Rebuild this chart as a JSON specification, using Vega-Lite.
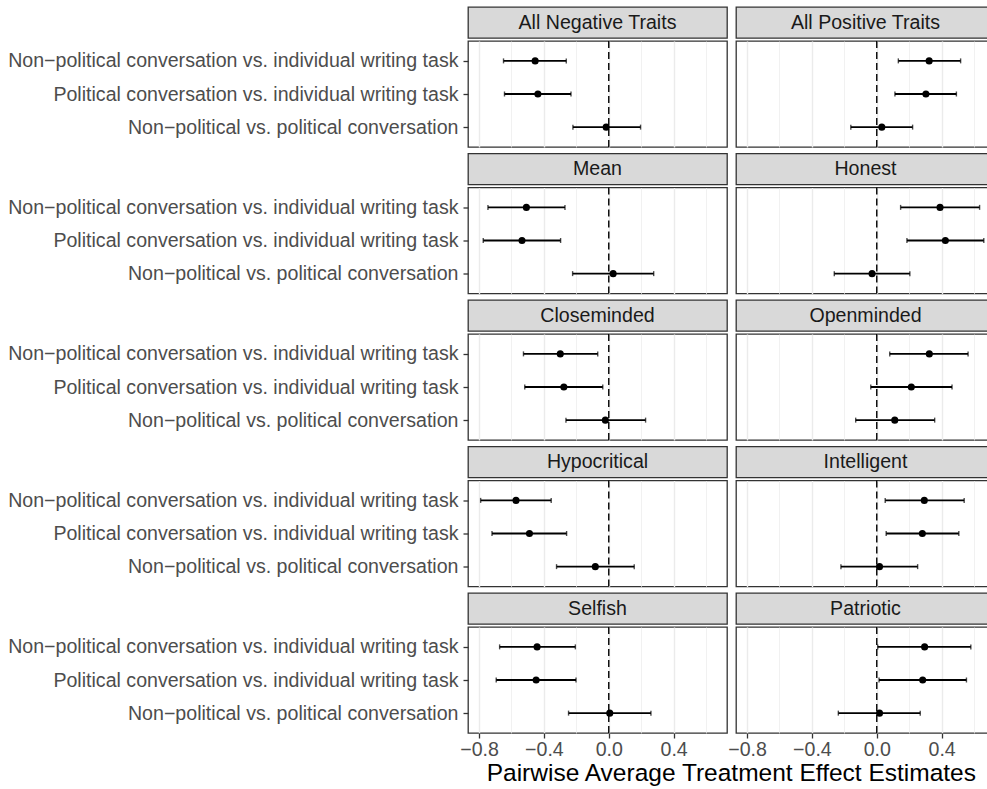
{
  "$schema": "https://vega.github.io/schema/vega-lite/v6.json",
  "padding": {"left": 7, "top": 6, "right": 0, "bottom": 0},
  "background": "white",
  "title": {"text": "Pairwise Average Treatment Effect Estimates", "orient": "bottom", "anchor": "middle", "dx": 230, "offset": 3, "fontSize": 24.5, "fontWeight": "normal", "color": "#000000", "font": "Liberation Sans"},
  "datasets": {
    "ate": [
      {"trait": "All Negative Traits", "comparison": "Non−political conversation vs. individual writing task", "est": -0.454, "lo": -0.649, "hi": -0.262},
      {"trait": "All Negative Traits", "comparison": "Political conversation vs. individual writing task", "est": -0.437, "lo": -0.643, "hi": -0.233},
      {"trait": "All Negative Traits", "comparison": "Non−political vs. political conversation", "est": -0.016, "lo": -0.221, "hi": 0.196},
      {"trait": "All Positive Traits", "comparison": "Non−political conversation vs. individual writing task", "est": 0.323, "lo": 0.133, "hi": 0.517},
      {"trait": "All Positive Traits", "comparison": "Political conversation vs. individual writing task", "est": 0.303, "lo": 0.112, "hi": 0.491},
      {"trait": "All Positive Traits", "comparison": "Non−political vs. political conversation", "est": 0.031, "lo": -0.160, "hi": 0.221},
      {"trait": "Mean", "comparison": "Non−political conversation vs. individual writing task", "est": -0.508, "lo": -0.745, "hi": -0.270},
      {"trait": "Mean", "comparison": "Political conversation vs. individual writing task", "est": -0.535, "lo": -0.774, "hi": -0.297},
      {"trait": "Mean", "comparison": "Non−political vs. political conversation", "est": 0.027, "lo": -0.223, "hi": 0.277},
      {"trait": "Honest", "comparison": "Non−political conversation vs. individual writing task", "est": 0.390, "lo": 0.147, "hi": 0.634},
      {"trait": "Honest", "comparison": "Political conversation vs. individual writing task", "est": 0.423, "lo": 0.186, "hi": 0.660},
      {"trait": "Honest", "comparison": "Non−political vs. political conversation", "est": -0.029, "lo": -0.262, "hi": 0.204},
      {"trait": "Closeminded", "comparison": "Non−political conversation vs. individual writing task", "est": -0.299, "lo": -0.526, "hi": -0.068},
      {"trait": "Closeminded", "comparison": "Political conversation vs. individual writing task", "est": -0.277, "lo": -0.518, "hi": -0.037},
      {"trait": "Closeminded", "comparison": "Non−political vs. political conversation", "est": -0.021, "lo": -0.264, "hi": 0.227},
      {"trait": "Openminded", "comparison": "Non−political conversation vs. individual writing task", "est": 0.324, "lo": 0.080, "hi": 0.563},
      {"trait": "Openminded", "comparison": "Political conversation vs. individual writing task", "est": 0.213, "lo": -0.037, "hi": 0.464},
      {"trait": "Openminded", "comparison": "Non−political vs. political conversation", "est": 0.111, "lo": -0.130, "hi": 0.357},
      {"trait": "Hypocritical", "comparison": "Non−political conversation vs. individual writing task", "est": -0.572, "lo": -0.790, "hi": -0.355},
      {"trait": "Hypocritical", "comparison": "Political conversation vs. individual writing task", "est": -0.489, "lo": -0.720, "hi": -0.260},
      {"trait": "Hypocritical", "comparison": "Non−political vs. political conversation", "est": -0.083, "lo": -0.322, "hi": 0.157},
      {"trait": "Intelligent", "comparison": "Non−political conversation vs. individual writing task", "est": 0.293, "lo": 0.052, "hi": 0.539},
      {"trait": "Intelligent", "comparison": "Political conversation vs. individual writing task", "est": 0.281, "lo": 0.058, "hi": 0.506},
      {"trait": "Intelligent", "comparison": "Non−political vs. political conversation", "est": 0.017, "lo": -0.221, "hi": 0.252},
      {"trait": "Selfish", "comparison": "Non−political conversation vs. individual writing task", "est": -0.442, "lo": -0.673, "hi": -0.206},
      {"trait": "Selfish", "comparison": "Political conversation vs. individual writing task", "est": -0.448, "lo": -0.694, "hi": -0.202},
      {"trait": "Selfish", "comparison": "Non−political vs. political conversation", "est": 0.006, "lo": -0.248, "hi": 0.260},
      {"trait": "Patriotic", "comparison": "Non−political conversation vs. individual writing task", "est": 0.295, "lo": 0.006, "hi": 0.580},
      {"trait": "Patriotic", "comparison": "Political conversation vs. individual writing task", "est": 0.283, "lo": 0.014, "hi": 0.553},
      {"trait": "Patriotic", "comparison": "Non−political vs. political conversation", "est": 0.017, "lo": -0.237, "hi": 0.268}
    ]
  },
  "data": {"name": "ate"},
  "spacing": -1,
  "hconcat": [
    {"spacing": 3.5, "vconcat": [
      {"spacing": 0, "vconcat": [
        {"width": 259, "height": 31, "view": {"fill": "#d9d9d9", "stroke": "#333333", "strokeWidth": 1.3},
         "transform": [{"filter": {"field": "trait", "equal": "All Negative Traits"}}, {"filter": {"field": "comparison", "equal": "Non−political vs. political conversation"}}],
         "mark": {"type": "text", "fontSize": 19.6, "color": "#1a1a1a", "baseline": "middle"},
         "encoding": {"text": {"field": "trait"}}},
        {"width": 259, "height": 106,
         "transform": [{"filter": {"field": "trait", "equal": "All Negative Traits"}}],
         "encoding": {"x": {"field": "est", "type": "quantitative", "scale": {"domain": [-0.868, 0.729], "nice": false, "zero": false}, "axis": {"labels": false, "ticks": false, "title": null}}},
         "layer": [
           {"encoding": {"y": {"field": "comparison", "type": "nominal", "scale": {"type": "point", "padding": 0.6, "domain": ["Non−political conversation vs. individual writing task", "Political conversation vs. individual writing task", "Non−political vs. political conversation"]}, "axis": {"title": null}}},
            "layer": [
              {"mark": {"type": "rule", "color": "black", "strokeWidth": 1.8}, "encoding": {"x": {"field": "lo", "type": "quantitative"}, "x2": {"field": "hi"}}},
              {"mark": {"type": "tick", "color": "black", "thickness": 1.4, "size": 5}, "encoding": {"x": {"field": "lo", "type": "quantitative"}}},
              {"mark": {"type": "tick", "color": "black", "thickness": 1.4, "size": 5}, "encoding": {"x": {"field": "hi", "type": "quantitative"}}},
              {"mark": {"type": "point", "filled": true, "color": "black", "opacity": 1, "size": 50}, "encoding": {}}
            ]},
           {"transform": [{"filter": {"field": "comparison", "equal": "Non−political vs. political conversation"}}],
            "mark": {"type": "rule", "color": "black", "strokeWidth": 1.4, "strokeDash": [7, 4]}, "encoding": {"x": {"datum": 0}}}
         ]}
      ]},
      {"spacing": 0, "vconcat": [
        {"width": 259, "height": 31, "view": {"fill": "#d9d9d9", "stroke": "#333333", "strokeWidth": 1.3},
         "transform": [{"filter": {"field": "trait", "equal": "Mean"}}, {"filter": {"field": "comparison", "equal": "Non−political vs. political conversation"}}],
         "mark": {"type": "text", "fontSize": 19.6, "color": "#1a1a1a", "baseline": "middle"},
         "encoding": {"text": {"field": "trait"}}},
        {"width": 259, "height": 106,
         "transform": [{"filter": {"field": "trait", "equal": "Mean"}}],
         "encoding": {"x": {"field": "est", "type": "quantitative", "scale": {"domain": [-0.868, 0.729], "nice": false, "zero": false}, "axis": {"labels": false, "ticks": false, "title": null}}},
         "layer": [
           {"encoding": {"y": {"field": "comparison", "type": "nominal", "scale": {"type": "point", "padding": 0.6, "domain": ["Non−political conversation vs. individual writing task", "Political conversation vs. individual writing task", "Non−political vs. political conversation"]}, "axis": {"title": null}}},
            "layer": [
              {"mark": {"type": "rule", "color": "black", "strokeWidth": 1.8}, "encoding": {"x": {"field": "lo", "type": "quantitative"}, "x2": {"field": "hi"}}},
              {"mark": {"type": "tick", "color": "black", "thickness": 1.4, "size": 5}, "encoding": {"x": {"field": "lo", "type": "quantitative"}}},
              {"mark": {"type": "tick", "color": "black", "thickness": 1.4, "size": 5}, "encoding": {"x": {"field": "hi", "type": "quantitative"}}},
              {"mark": {"type": "point", "filled": true, "color": "black", "opacity": 1, "size": 50}, "encoding": {}}
            ]},
           {"transform": [{"filter": {"field": "comparison", "equal": "Non−political vs. political conversation"}}],
            "mark": {"type": "rule", "color": "black", "strokeWidth": 1.4, "strokeDash": [7, 4]}, "encoding": {"x": {"datum": 0}}}
         ]}
      ]},
      {"spacing": 0, "vconcat": [
        {"width": 259, "height": 31, "view": {"fill": "#d9d9d9", "stroke": "#333333", "strokeWidth": 1.3},
         "transform": [{"filter": {"field": "trait", "equal": "Closeminded"}}, {"filter": {"field": "comparison", "equal": "Non−political vs. political conversation"}}],
         "mark": {"type": "text", "fontSize": 19.6, "color": "#1a1a1a", "baseline": "middle"},
         "encoding": {"text": {"field": "trait"}}},
        {"width": 259, "height": 106,
         "transform": [{"filter": {"field": "trait", "equal": "Closeminded"}}],
         "encoding": {"x": {"field": "est", "type": "quantitative", "scale": {"domain": [-0.868, 0.729], "nice": false, "zero": false}, "axis": {"labels": false, "ticks": false, "title": null}}},
         "layer": [
           {"encoding": {"y": {"field": "comparison", "type": "nominal", "scale": {"type": "point", "padding": 0.6, "domain": ["Non−political conversation vs. individual writing task", "Political conversation vs. individual writing task", "Non−political vs. political conversation"]}, "axis": {"title": null}}},
            "layer": [
              {"mark": {"type": "rule", "color": "black", "strokeWidth": 1.8}, "encoding": {"x": {"field": "lo", "type": "quantitative"}, "x2": {"field": "hi"}}},
              {"mark": {"type": "tick", "color": "black", "thickness": 1.4, "size": 5}, "encoding": {"x": {"field": "lo", "type": "quantitative"}}},
              {"mark": {"type": "tick", "color": "black", "thickness": 1.4, "size": 5}, "encoding": {"x": {"field": "hi", "type": "quantitative"}}},
              {"mark": {"type": "point", "filled": true, "color": "black", "opacity": 1, "size": 50}, "encoding": {}}
            ]},
           {"transform": [{"filter": {"field": "comparison", "equal": "Non−political vs. political conversation"}}],
            "mark": {"type": "rule", "color": "black", "strokeWidth": 1.4, "strokeDash": [7, 4]}, "encoding": {"x": {"datum": 0}}}
         ]}
      ]},
      {"spacing": 0, "vconcat": [
        {"width": 259, "height": 31, "view": {"fill": "#d9d9d9", "stroke": "#333333", "strokeWidth": 1.3},
         "transform": [{"filter": {"field": "trait", "equal": "Hypocritical"}}, {"filter": {"field": "comparison", "equal": "Non−political vs. political conversation"}}],
         "mark": {"type": "text", "fontSize": 19.6, "color": "#1a1a1a", "baseline": "middle"},
         "encoding": {"text": {"field": "trait"}}},
        {"width": 259, "height": 106,
         "transform": [{"filter": {"field": "trait", "equal": "Hypocritical"}}],
         "encoding": {"x": {"field": "est", "type": "quantitative", "scale": {"domain": [-0.868, 0.729], "nice": false, "zero": false}, "axis": {"labels": false, "ticks": false, "title": null}}},
         "layer": [
           {"encoding": {"y": {"field": "comparison", "type": "nominal", "scale": {"type": "point", "padding": 0.6, "domain": ["Non−political conversation vs. individual writing task", "Political conversation vs. individual writing task", "Non−political vs. political conversation"]}, "axis": {"title": null}}},
            "layer": [
              {"mark": {"type": "rule", "color": "black", "strokeWidth": 1.8}, "encoding": {"x": {"field": "lo", "type": "quantitative"}, "x2": {"field": "hi"}}},
              {"mark": {"type": "tick", "color": "black", "thickness": 1.4, "size": 5}, "encoding": {"x": {"field": "lo", "type": "quantitative"}}},
              {"mark": {"type": "tick", "color": "black", "thickness": 1.4, "size": 5}, "encoding": {"x": {"field": "hi", "type": "quantitative"}}},
              {"mark": {"type": "point", "filled": true, "color": "black", "opacity": 1, "size": 50}, "encoding": {}}
            ]},
           {"transform": [{"filter": {"field": "comparison", "equal": "Non−political vs. political conversation"}}],
            "mark": {"type": "rule", "color": "black", "strokeWidth": 1.4, "strokeDash": [7, 4]}, "encoding": {"x": {"datum": 0}}}
         ]}
      ]},
      {"spacing": 0, "vconcat": [
        {"width": 259, "height": 31, "view": {"fill": "#d9d9d9", "stroke": "#333333", "strokeWidth": 1.3},
         "transform": [{"filter": {"field": "trait", "equal": "Selfish"}}, {"filter": {"field": "comparison", "equal": "Non−political vs. political conversation"}}],
         "mark": {"type": "text", "fontSize": 19.6, "color": "#1a1a1a", "baseline": "middle"},
         "encoding": {"text": {"field": "trait"}}},
        {"width": 259, "height": 106,
         "transform": [{"filter": {"field": "trait", "equal": "Selfish"}}],
         "encoding": {"x": {"field": "est", "type": "quantitative", "scale": {"domain": [-0.868, 0.729], "nice": false, "zero": false}, "axis": {"title": null}}},
         "layer": [
           {"encoding": {"y": {"field": "comparison", "type": "nominal", "scale": {"type": "point", "padding": 0.6, "domain": ["Non−political conversation vs. individual writing task", "Political conversation vs. individual writing task", "Non−political vs. political conversation"]}, "axis": {"title": null}}},
            "layer": [
              {"mark": {"type": "rule", "color": "black", "strokeWidth": 1.8}, "encoding": {"x": {"field": "lo", "type": "quantitative"}, "x2": {"field": "hi"}}},
              {"mark": {"type": "tick", "color": "black", "thickness": 1.4, "size": 5}, "encoding": {"x": {"field": "lo", "type": "quantitative"}}},
              {"mark": {"type": "tick", "color": "black", "thickness": 1.4, "size": 5}, "encoding": {"x": {"field": "hi", "type": "quantitative"}}},
              {"mark": {"type": "point", "filled": true, "color": "black", "opacity": 1, "size": 50}, "encoding": {}}
            ]},
           {"transform": [{"filter": {"field": "comparison", "equal": "Non−political vs. political conversation"}}],
            "mark": {"type": "rule", "color": "black", "strokeWidth": 1.4, "strokeDash": [7, 4]}, "encoding": {"x": {"datum": 0}}}
         ]}
      ]}
    ]},
    {"spacing": 3.5, "vconcat": [
      {"spacing": 0, "vconcat": [
        {"width": 259, "height": 31, "view": {"fill": "#d9d9d9", "stroke": "#333333", "strokeWidth": 1.3},
         "transform": [{"filter": {"field": "trait", "equal": "All Positive Traits"}}, {"filter": {"field": "comparison", "equal": "Non−political vs. political conversation"}}],
         "mark": {"type": "text", "fontSize": 19.6, "color": "#1a1a1a", "baseline": "middle"},
         "encoding": {"text": {"field": "trait"}}},
        {"width": 259, "height": 106,
         "transform": [{"filter": {"field": "trait", "equal": "All Positive Traits"}}],
         "encoding": {"x": {"field": "est", "type": "quantitative", "scale": {"domain": [-0.868, 0.729], "nice": false, "zero": false}, "axis": {"labels": false, "ticks": false, "title": null}}},
         "layer": [
           {"encoding": {"y": {"field": "comparison", "type": "nominal", "scale": {"type": "point", "padding": 0.6, "domain": ["Non−political conversation vs. individual writing task", "Political conversation vs. individual writing task", "Non−political vs. political conversation"]}, "axis": {"title": null, "labels": false, "ticks": false}}},
            "layer": [
              {"mark": {"type": "rule", "color": "black", "strokeWidth": 1.8}, "encoding": {"x": {"field": "lo", "type": "quantitative"}, "x2": {"field": "hi"}}},
              {"mark": {"type": "tick", "color": "black", "thickness": 1.4, "size": 5}, "encoding": {"x": {"field": "lo", "type": "quantitative"}}},
              {"mark": {"type": "tick", "color": "black", "thickness": 1.4, "size": 5}, "encoding": {"x": {"field": "hi", "type": "quantitative"}}},
              {"mark": {"type": "point", "filled": true, "color": "black", "opacity": 1, "size": 50}, "encoding": {}}
            ]},
           {"transform": [{"filter": {"field": "comparison", "equal": "Non−political vs. political conversation"}}],
            "mark": {"type": "rule", "color": "black", "strokeWidth": 1.4, "strokeDash": [7, 4]}, "encoding": {"x": {"datum": 0}}}
         ]}
      ]},
      {"spacing": 0, "vconcat": [
        {"width": 259, "height": 31, "view": {"fill": "#d9d9d9", "stroke": "#333333", "strokeWidth": 1.3},
         "transform": [{"filter": {"field": "trait", "equal": "Honest"}}, {"filter": {"field": "comparison", "equal": "Non−political vs. political conversation"}}],
         "mark": {"type": "text", "fontSize": 19.6, "color": "#1a1a1a", "baseline": "middle"},
         "encoding": {"text": {"field": "trait"}}},
        {"width": 259, "height": 106,
         "transform": [{"filter": {"field": "trait", "equal": "Honest"}}],
         "encoding": {"x": {"field": "est", "type": "quantitative", "scale": {"domain": [-0.868, 0.729], "nice": false, "zero": false}, "axis": {"labels": false, "ticks": false, "title": null}}},
         "layer": [
           {"encoding": {"y": {"field": "comparison", "type": "nominal", "scale": {"type": "point", "padding": 0.6, "domain": ["Non−political conversation vs. individual writing task", "Political conversation vs. individual writing task", "Non−political vs. political conversation"]}, "axis": {"title": null, "labels": false, "ticks": false}}},
            "layer": [
              {"mark": {"type": "rule", "color": "black", "strokeWidth": 1.8}, "encoding": {"x": {"field": "lo", "type": "quantitative"}, "x2": {"field": "hi"}}},
              {"mark": {"type": "tick", "color": "black", "thickness": 1.4, "size": 5}, "encoding": {"x": {"field": "lo", "type": "quantitative"}}},
              {"mark": {"type": "tick", "color": "black", "thickness": 1.4, "size": 5}, "encoding": {"x": {"field": "hi", "type": "quantitative"}}},
              {"mark": {"type": "point", "filled": true, "color": "black", "opacity": 1, "size": 50}, "encoding": {}}
            ]},
           {"transform": [{"filter": {"field": "comparison", "equal": "Non−political vs. political conversation"}}],
            "mark": {"type": "rule", "color": "black", "strokeWidth": 1.4, "strokeDash": [7, 4]}, "encoding": {"x": {"datum": 0}}}
         ]}
      ]},
      {"spacing": 0, "vconcat": [
        {"width": 259, "height": 31, "view": {"fill": "#d9d9d9", "stroke": "#333333", "strokeWidth": 1.3},
         "transform": [{"filter": {"field": "trait", "equal": "Openminded"}}, {"filter": {"field": "comparison", "equal": "Non−political vs. political conversation"}}],
         "mark": {"type": "text", "fontSize": 19.6, "color": "#1a1a1a", "baseline": "middle"},
         "encoding": {"text": {"field": "trait"}}},
        {"width": 259, "height": 106,
         "transform": [{"filter": {"field": "trait", "equal": "Openminded"}}],
         "encoding": {"x": {"field": "est", "type": "quantitative", "scale": {"domain": [-0.868, 0.729], "nice": false, "zero": false}, "axis": {"labels": false, "ticks": false, "title": null}}},
         "layer": [
           {"encoding": {"y": {"field": "comparison", "type": "nominal", "scale": {"type": "point", "padding": 0.6, "domain": ["Non−political conversation vs. individual writing task", "Political conversation vs. individual writing task", "Non−political vs. political conversation"]}, "axis": {"title": null, "labels": false, "ticks": false}}},
            "layer": [
              {"mark": {"type": "rule", "color": "black", "strokeWidth": 1.8}, "encoding": {"x": {"field": "lo", "type": "quantitative"}, "x2": {"field": "hi"}}},
              {"mark": {"type": "tick", "color": "black", "thickness": 1.4, "size": 5}, "encoding": {"x": {"field": "lo", "type": "quantitative"}}},
              {"mark": {"type": "tick", "color": "black", "thickness": 1.4, "size": 5}, "encoding": {"x": {"field": "hi", "type": "quantitative"}}},
              {"mark": {"type": "point", "filled": true, "color": "black", "opacity": 1, "size": 50}, "encoding": {}}
            ]},
           {"transform": [{"filter": {"field": "comparison", "equal": "Non−political vs. political conversation"}}],
            "mark": {"type": "rule", "color": "black", "strokeWidth": 1.4, "strokeDash": [7, 4]}, "encoding": {"x": {"datum": 0}}}
         ]}
      ]},
      {"spacing": 0, "vconcat": [
        {"width": 259, "height": 31, "view": {"fill": "#d9d9d9", "stroke": "#333333", "strokeWidth": 1.3},
         "transform": [{"filter": {"field": "trait", "equal": "Intelligent"}}, {"filter": {"field": "comparison", "equal": "Non−political vs. political conversation"}}],
         "mark": {"type": "text", "fontSize": 19.6, "color": "#1a1a1a", "baseline": "middle"},
         "encoding": {"text": {"field": "trait"}}},
        {"width": 259, "height": 106,
         "transform": [{"filter": {"field": "trait", "equal": "Intelligent"}}],
         "encoding": {"x": {"field": "est", "type": "quantitative", "scale": {"domain": [-0.868, 0.729], "nice": false, "zero": false}, "axis": {"labels": false, "ticks": false, "title": null}}},
         "layer": [
           {"encoding": {"y": {"field": "comparison", "type": "nominal", "scale": {"type": "point", "padding": 0.6, "domain": ["Non−political conversation vs. individual writing task", "Political conversation vs. individual writing task", "Non−political vs. political conversation"]}, "axis": {"title": null, "labels": false, "ticks": false}}},
            "layer": [
              {"mark": {"type": "rule", "color": "black", "strokeWidth": 1.8}, "encoding": {"x": {"field": "lo", "type": "quantitative"}, "x2": {"field": "hi"}}},
              {"mark": {"type": "tick", "color": "black", "thickness": 1.4, "size": 5}, "encoding": {"x": {"field": "lo", "type": "quantitative"}}},
              {"mark": {"type": "tick", "color": "black", "thickness": 1.4, "size": 5}, "encoding": {"x": {"field": "hi", "type": "quantitative"}}},
              {"mark": {"type": "point", "filled": true, "color": "black", "opacity": 1, "size": 50}, "encoding": {}}
            ]},
           {"transform": [{"filter": {"field": "comparison", "equal": "Non−political vs. political conversation"}}],
            "mark": {"type": "rule", "color": "black", "strokeWidth": 1.4, "strokeDash": [7, 4]}, "encoding": {"x": {"datum": 0}}}
         ]}
      ]},
      {"spacing": 0, "vconcat": [
        {"width": 259, "height": 31, "view": {"fill": "#d9d9d9", "stroke": "#333333", "strokeWidth": 1.3},
         "transform": [{"filter": {"field": "trait", "equal": "Patriotic"}}, {"filter": {"field": "comparison", "equal": "Non−political vs. political conversation"}}],
         "mark": {"type": "text", "fontSize": 19.6, "color": "#1a1a1a", "baseline": "middle"},
         "encoding": {"text": {"field": "trait"}}},
        {"width": 259, "height": 106,
         "transform": [{"filter": {"field": "trait", "equal": "Patriotic"}}],
         "encoding": {"x": {"field": "est", "type": "quantitative", "scale": {"domain": [-0.868, 0.729], "nice": false, "zero": false}, "axis": {"title": null}}},
         "layer": [
           {"encoding": {"y": {"field": "comparison", "type": "nominal", "scale": {"type": "point", "padding": 0.6, "domain": ["Non−political conversation vs. individual writing task", "Political conversation vs. individual writing task", "Non−political vs. political conversation"]}, "axis": {"title": null, "labels": false, "ticks": false}}},
            "layer": [
              {"mark": {"type": "rule", "color": "black", "strokeWidth": 1.8}, "encoding": {"x": {"field": "lo", "type": "quantitative"}, "x2": {"field": "hi"}}},
              {"mark": {"type": "tick", "color": "black", "thickness": 1.4, "size": 5}, "encoding": {"x": {"field": "lo", "type": "quantitative"}}},
              {"mark": {"type": "tick", "color": "black", "thickness": 1.4, "size": 5}, "encoding": {"x": {"field": "hi", "type": "quantitative"}}},
              {"mark": {"type": "point", "filled": true, "color": "black", "opacity": 1, "size": 50}, "encoding": {}}
            ]},
           {"transform": [{"filter": {"field": "comparison", "equal": "Non−political vs. political conversation"}}],
            "mark": {"type": "rule", "color": "black", "strokeWidth": 1.4, "strokeDash": [7, 4]}, "encoding": {"x": {"datum": 0}}}
         ]}
      ]}
    ]}
  ],
  "config": {
    "font": "Liberation Sans",
    "view": {"stroke": "#333333", "strokeWidth": 1.3},
    "axis": {
      "domain": false,
      "gridColor": "#ebebeb",
      "labelColor": "#4d4d4d",
      "labelFontSize": 19.6,
      "labelFont": "Liberation Sans",
      "tickColor": "#333333",
      "tickSize": 5,
      "tickWidth": 1.3,
      "labelPadding": 2
    },
    "axisX": {
      "values": [-0.8, -0.6, -0.4, -0.2, 0, 0.2, 0.4, 0.6],
      "gridWidth": {"condition": {"test": "round(datum.value * 10) % 4 !== 0", "value": 0.7}, "value": 1.4},
      "tickOpacity": {"condition": {"test": "round(datum.value * 10) % 4 !== 0", "value": 0}, "value": 1},
      "labelExpr": "round(datum.value * 10) % 4 === 0 ? replace(format(datum.value, '.1f'), '-', '\u2212') : ''",
      "labelFlush": false,
      "labelOverlap": false
    },
    "axisY": {"gridWidth": 1.4, "labelLimit": 0, "labelPadding": 5}
  }
}
